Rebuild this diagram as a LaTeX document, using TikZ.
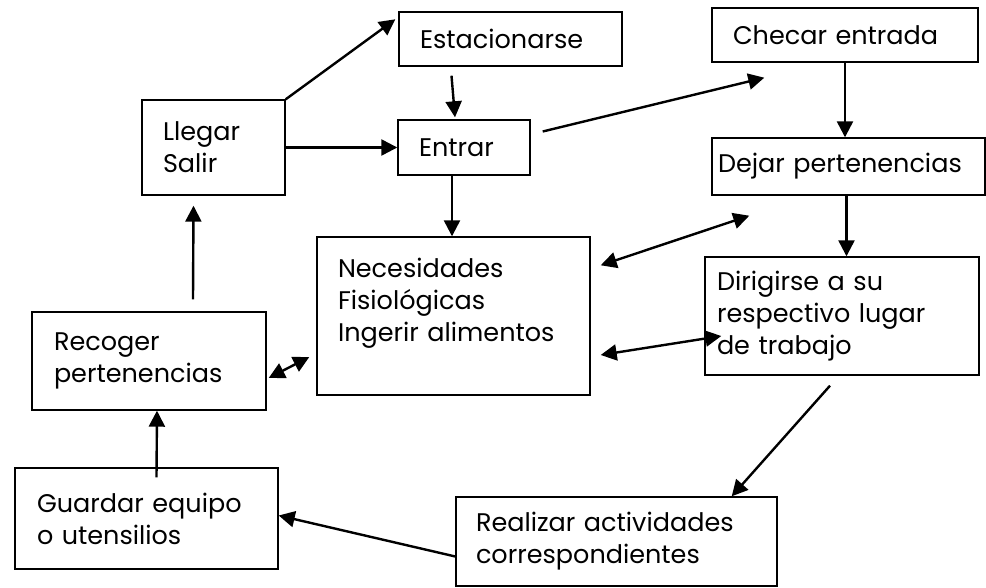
\documentclass[tikz,border=0pt]{standalone}
\usepackage{fontspec}
\setmainfont{Poppins}
\usepackage{tikz}
\usetikzlibrary{positioning,calc,arrows.meta}
\tikzset{>={Triangle[length=16pt,width=16pt]}}

\begin{document}
\begin{tikzpicture}[x=1pt,y=-1pt,
  caja/.style={draw,line width=1.4pt,align=left,inner ysep=0pt,
    font=\fontsize{25.5}{32}\selectfont},
  flecha/.style={->,line width=2.4pt},
  doble/.style={<->,line width=2.4pt}]
\useasboundingbox (0,0) rectangle (986,588);
% cajas
\node[caja,inner xsep=21pt,text width=181pt,minimum height=54pt] (estac) at (510.5,39) {Estacionarse};
\node[caja,inner xsep=21pt,text width=224pt,minimum height=54pt] (checar) at (845,35) {Checar entrada};
\node[caja,inner xsep=21pt,text width=101pt,minimum height=95pt] (llegar) at (213.5,147.5) {Llegar\\Salir};
\node[caja,inner xsep=21pt,text width=90pt,minimum height=55pt] (entrar) at (464,147.5) {Entrar};
\node[caja,inner xsep=6pt,text width=261pt,minimum height=57pt] (dejar) at (848.5,166.5) {Dejar pertenencias};
\node[caja,inner xsep=21pt,text width=231pt,minimum height=158pt] (necesid) at (453.5,316) {Necesidades\\Fisiológicas\\Ingerir alimentos\\ \mbox{}};
\node[caja,inner xsep=22pt,text width=190pt,minimum height=98pt] (recoger) at (149,361) {Recoger\\pertenencias};
\node[caja,inner xsep=12pt,text width=250pt,minimum height=118pt] (dirigir) at (842,316) {Dirigirse a su\\respectivo lugar\\de trabajo};
\node[caja,inner xsep=22pt,text width=219pt,minimum height=101pt] (guardar) at (146.5,518.5) {Guardar equipo\\o utensilios};
\node[caja,inner xsep=20pt,text width=281pt,minimum height=89pt] (realizar) at (616.5,541.5) {Realizar actividades\\correspondientes};
% flechas
\draw[flecha] (llegar.north east) -- ($(estac.north west)+(-3,8)$);
\draw[flecha] ($(estac.south)+(-59,9)$) -- ($(entrar.north)+(-9,-2)$);
\draw[flecha] (llegar.east) -- (entrar.west);
\draw[flecha] ($(entrar.east)+(12,-16)$) -- ($(checar.south west)+(53,15)$);
\draw[flecha] (checar.south) -- (checar.south |- dejar.north);
\draw[flecha] ($(dejar.south)+(-2,0)$) -- ($(dejar.south |- dirigir.north)+(-2,0)$);
\draw[flecha] ($(entrar.south)+(-12,0)$) -- ($(entrar.south |- necesid.north)+(-12,0)$);
\draw[doble] ($(necesid.north east)+(10,29)$) -- ($(dejar.south west)+(38,20)$);
\draw[doble] ($(necesid.east)+(10,39)$) -- ($(dirigir.west)+(17,20)$);
\draw[flecha] ($(dirigir.south)+(-12,10)$) -- ($(realizar.north east)+(-46,0)$);
\draw[flecha] ($(realizar.west)+(0,15)$) -- ($(guardar.east)+(0,-3)$);
\draw[flecha] ($(guardar.north)+(10,10)$) -- ($(recoger.south)+(8,0)$);
\draw[flecha] ($(recoger.north)+(44,-12)$) -- ($(llegar.south)+(-20,10)$);
\draw[doble] ($(recoger.east)+(2,17)$) -- ($(necesid.west)+(-7,41)$);
\end{tikzpicture}
\end{document}
